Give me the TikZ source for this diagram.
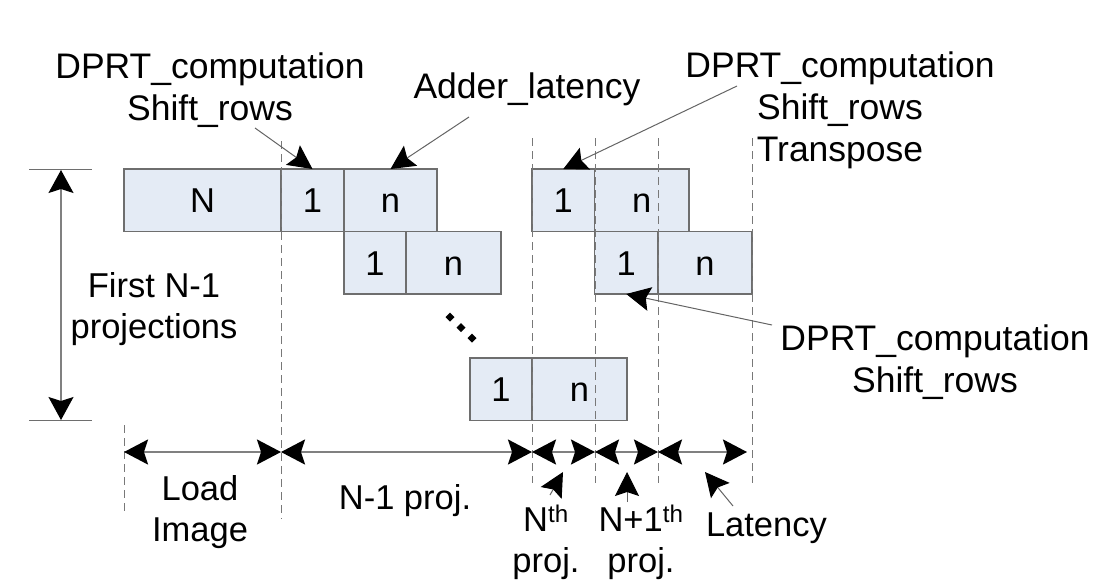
\documentclass[tikz,border=0pt]{standalone}
\usepackage{fontspec}
\setmainfont{Liberation Sans}
\usetikzlibrary{arrows.meta}
\definecolor{cellfill}{RGB}{228,235,245}
\definecolor{cellline}{RGB}{110,110,110}
\definecolor{guidegray}{RGB}{120,120,120}
\definecolor{linegray}{RGB}{128,128,128}
\definecolor{thingray}{RGB}{100,100,100}
\begin{document}
\begin{tikzpicture}[x=1pt,y=-1pt,
  every node/.style={font=\fontsize{34.5}{41}\selectfont, inner sep=0pt, outer sep=0pt},
  cell/.style={draw=cellline, fill=cellfill, line width=1.5pt, anchor=north west,
    minimum height=62.5pt, text height=24.7pt, text depth=0pt},
  guide/.style={draw=guidegray, line width=1pt, dash pattern=on 8pt off 5pt},
  timespan/.style={draw=linegray, line width=2pt,
    {Stealth[length=24pt,width=25pt,inset=4pt,color=black]}-{Stealth[length=24pt,width=25pt,inset=4pt,color=black]}},
  callout/.style={draw=thingray, line width=1pt, -{Stealth[length=24pt,width=24pt,inset=4pt,color=black]}},
  txt/.style={align=center, anchor=north},
  stage/.style={align=center, anchor=north, font=\fontsize{35.5}{42}\selectfont}
]
\useasboundingbox (0,0) rectangle (1102,582);

% ---- first N-1 projections
\node[cell, minimum width=157pt] (N)  at (124,169)   {N};
\node[cell, minimum width=63pt]  (a1) at (281,169)   {1};
\node[cell, minimum width=93pt]  (b1) at (344,169)   {n};
\node[cell, minimum width=62pt]  (a2) at (344,231.5) {1};
\node[cell, minimum width=95pt]  (b2) at (406,231.5) {n};
\node[cell, minimum width=62pt]  (a3) at (470,358)   {1};
\node[cell, minimum width=95pt]  (b3) at (532,358)   {n};

% ---- N-th and (N+1)-th projections
\node[cell, minimum width=62.5pt] (c1) at (532,169)   {1};
\node[cell, minimum width=94.5pt] (d1) at (594.5,169) {n};
\node[cell, minimum width=63.5pt] (c2) at (594.5,231.5) {1};
\node[cell, minimum width=94pt]   (d2) at (658,231.5) {n};

% ---- vertical ellipsis between rows
\foreach \px/\py in {450/317, 461/327.5, 472/338}
  \fill (\px,\py-4.5) -- (\px+4.5,\py) -- (\px,\py+4.5) -- (\px-4.5,\py) -- cycle;

% ---- dashed time guides
\draw[guide] (124,425) -- (124,515);
\draw[guide] (281,141) -- (281,519);
\foreach \gx in {532,595,658,752}
  \draw[guide] (\gx,138) -- (\gx,483);

% ---- height of the first N-1 projections
\draw[draw=cellline, line width=1.2pt] (29,169.5) -- (92,169.5);
\draw[draw=cellline, line width=1.2pt] (29,420.5) -- (92,420.5);
\coordinate (vtop) at (61,170);
\coordinate (vbot) at (61,420);
\draw[draw=linegray, line width=1.2pt,
  {Stealth[length=23pt,width=25pt,inset=4pt,color=black]}-{Stealth[length=23pt,width=25pt,inset=4pt,color=black]}] (vtop) -- (vbot);
\node[txt] (first) at (154,272) {First N-1\\projections};

% ---- time line
\coordinate (t0) at (124,452);
\coordinate (t1) at (281,452);
\coordinate (t2) at (532,452);
\coordinate (t3) at (595,452);
\coordinate (t4) at (658,452);
\coordinate (t5) at (747,452);
\draw[timespan] (t0) -- (t1);
\draw[timespan] (t1) -- (t2);
\draw[timespan] (t2) -- (t3);
\draw[timespan] (t3) -- (t4);
\draw[timespan] (t4) -- (t5);

\node[txt] (load)  at (200,475) {Load\\Image};
\node[txt] (nproj) at (405,484) {N-1 proj.};
\node[txt] (nth)   at (546,505) {N\textsuperscript{th}\\proj.};
\node[txt] (n1th)  at (641,505) {N+1\textsuperscript{th}\\proj.};
\node[anchor=north west] (lat) at (706,513) {Latency};

\coordinate (nthtail) at (550,495);
\coordinate (nthtip)  at (563,472);
\coordinate (n1tail)  at (627,502);
\coordinate (n1tip)   at (627,472);
\coordinate (lattail) at (733,506);
\coordinate (lattip)  at (705,472);
\draw[callout] (nthtail) -- (nthtip);
\draw[callout] (n1tail) -- (n1tip);
\draw[callout] (lattail) -- (lattip);

% ---- stage labels
\node[stage] (dprtA) at (210,53) {DPRT\_computation\\Shift\_rows};
\node[stage] (adder) at (527,73) {Adder\_latency};
\node[stage] (dprtB) at (840,52) {DPRT\_computation\\Shift\_rows\\Transpose};
\node[stage] (dprtC) at (935,325) {DPRT\_computation\\Shift\_rows};

\coordinate (atail) at (255,128);
\coordinate (btail) at (469,117);
\coordinate (ctail) at (737,86);
\coordinate (dtail) at (772,325);
\draw[callout] (atail) -- (a1.north);
\draw[callout] (btail) -- (b1.north);
\draw[callout] (ctail) -- (c1.north);
\draw[callout] (dtail) -- (c2.south);
\end{tikzpicture}
\end{document}
